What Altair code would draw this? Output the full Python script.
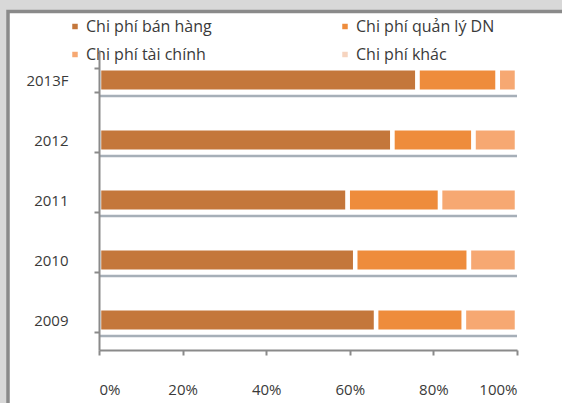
import altair as alt
import pandas as pd

# Cost structure by year (share of total costs)
years = ["2013F", "2012", "2011", "2010", "2009"]
series = ["Chi phí bán hàng", "Chi phí quản lý DN", "Chi phí tài chính", "Chi phí khác"]
ban_hang = [0.762, 0.702, 0.595, 0.613, 0.663]
quan_ly = [0.192, 0.194, 0.221, 0.272, 0.210]
tai_chinh = [0.046, 0.104, 0.184, 0.115, 0.127]
khac = [0.0, 0.0, 0.0, 0.0, 0.0]
colors = ["#c4773b", "#ee8c3c", "#f6a872", "#f6d4bf"]
x_ticks = [0, 0.2, 0.4, 0.6, 0.8, 1.0]

rows = []
for i, y in enumerate(years):
    for k, (name, vals) in enumerate(zip(series, [ban_hang, quan_ly, tai_chinh, khac])):
        rows.append({"year": y, "series": name, "order": k, "value": vals[i]})
df = pd.DataFrame(rows)
totals = pd.DataFrame({"year": years, "start": 0.0,
                       "end": [a + b + c + d for a, b, c, d in zip(ban_hang, quan_ly, tai_chinh, khac)]})

W, H = 418, 300
FONT = "Open Sans"
TEXT = "#3a3a3a"
AXIS = "#8a8a8a"

# white panel with a dark frame on the left and top edges
panel = alt.Chart(alt.Data(values=[{}])).mark_rect(
    fill="white", stroke="#8a8a8a", strokeWidth=3.5
).encode(x=alt.value(-91), x2=alt.value(W + 80), y=alt.value(-38.5), y2=alt.value(H + 80))

y_enc = alt.Y(
    "year:N", sort=years, title=None,
    scale=alt.Scale(paddingInner=0.6, paddingOuter=0.3),
    axis=alt.Axis(
        tickBand="extent", tickSize=5, tickWidth=2, tickColor=AXIS,
        domainColor=AXIS, domainWidth=2, labelPadding=26, zindex=2,
        labelFont=FONT, labelFontSize=15, labelColor=TEXT,
    ),
)

shadow = alt.Chart(totals).mark_rule(
    color="#97a1ab", strokeWidth=2.5, opacity=0.85, yOffset=16
).encode(
    x=alt.X("start:Q"), x2="end:Q", y=alt.Y("year:N", sort=years),
)

bars = alt.Chart(df).transform_filter(alt.datum.value > 0).mark_bar(
    size=23.5, stroke="white", strokeWidth=4.5
).encode(
    x=alt.X(
        "value:Q", stack="zero", title=None,
        scale=alt.Scale(domain=[0, 1], nice=False),
        axis=alt.Axis(
            values=x_ticks, format=".0%", grid=False, zindex=2,
            tickSize=5, tickWidth=2, tickColor=AXIS,
            domainColor=AXIS, domainWidth=2, labelPadding=27,
            labelFont=FONT, labelFontSize=15, labelColor=TEXT,
        ),
    ),
    y=y_enc,
    color=alt.Color(
        "series:N",
        scale=alt.Scale(domain=series, range=colors),
        legend=alt.Legend(
            title=None, orient="none", legendX=-32, legendY=-31.5,
            direction="horizontal", columns=2, columnPadding=125, rowPadding=12,
            padding=0, symbolType="square", symbolSize=30, symbolStrokeWidth=0,
            labelOffset=3, labelFont=FONT, labelFontSize=16, labelColor=TEXT,
            labelLimit=300,
        ),
    ),
    order=alt.Order("order:Q"),
)

chart = alt.layer(panel, shadow, bars).properties(
    width=W, height=H,
    background="#d8d8d8",
    padding={"left": 99, "top": 50, "right": 45, "bottom": 53},
    autosize=alt.AutoSizeParams(type="none"),
).configure_view(stroke=None)

chart.save("out.html", embed_options={"renderer": "svg", "actions": False})
